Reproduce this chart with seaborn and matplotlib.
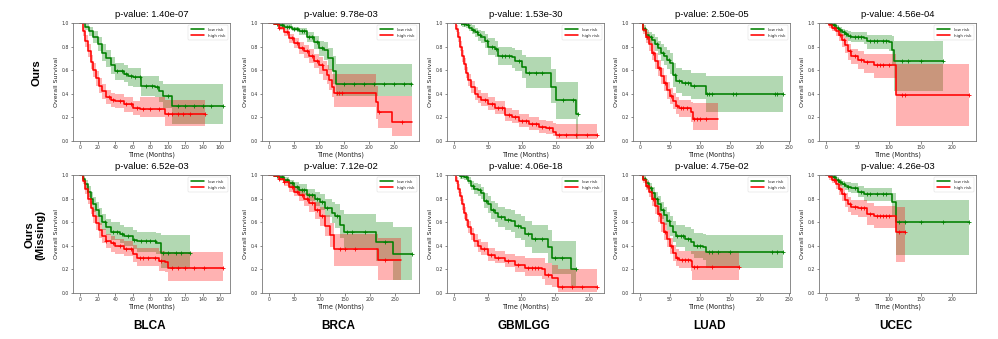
import numpy as np
import matplotlib
matplotlib.use("Agg")
import matplotlib.pyplot as plt
from matplotlib.ticker import MultipleLocator, FormatStrFormatter
import seaborn as sns

# ---------------- data ----------------
CANCERS = ["BLCA", "BRCA", "GBMLGG", "LUAD", "UCEC"]
ROWS = ["Ours", "Ours\n(Missing)"]
PVALUES_OURS = ["1.40e-07", "9.78e-03", "1.53e-30", "2.50e-05", "4.56e-04"]
PVALUES_MISSING = ["6.52e-03", "7.12e-02", "4.06e-18", "4.75e-02", "4.26e-03"]
GROUPS = ["low risk", "high risk"]

# ---- BLCA / Ours ----
blca_o_low_t = [0, 5, 10, 15, 20, 25, 30, 35, 40, 50, 55, 60, 70, 85, 90, 95, 105, 163]
blca_o_low_s = [1.0, 0.97, 0.93, 0.88, 0.82, 0.75, 0.70, 0.64, 0.59, 0.57, 0.55, 0.54, 0.47, 0.46, 0.42, 0.38, 0.30, 0.30]
blca_o_low_lo = [1.0, 0.94, 0.89, 0.83, 0.76, 0.68, 0.63, 0.57, 0.52, 0.50, 0.47, 0.46, 0.38, 0.37, 0.33, 0.28, 0.14, 0.14]
blca_o_low_hi = [1.0, 0.99, 0.97, 0.93, 0.88, 0.82, 0.77, 0.71, 0.66, 0.64, 0.62, 0.62, 0.55, 0.55, 0.51, 0.48, 0.48, 0.48]
blca_o_low_c = [42, 48, 52, 58, 63, 68, 75, 82, 88, 100, 112, 120, 130, 140, 150, 163]
blca_o_high_t = [0, 3, 6, 9, 12, 15, 18, 21, 25, 30, 35, 40, 50, 60, 68, 97, 143]
blca_o_high_s = [1.0, 0.93, 0.85, 0.76, 0.67, 0.60, 0.53, 0.47, 0.42, 0.37, 0.35, 0.34, 0.31, 0.28, 0.27, 0.23, 0.23]
blca_o_high_lo = [1.0, 0.89, 0.80, 0.71, 0.61, 0.54, 0.47, 0.41, 0.36, 0.31, 0.29, 0.28, 0.25, 0.22, 0.20, 0.13, 0.13]
blca_o_high_hi = [1.0, 0.97, 0.90, 0.82, 0.73, 0.66, 0.59, 0.53, 0.48, 0.43, 0.41, 0.40, 0.37, 0.34, 0.37, 0.35, 0.35]
blca_o_high_c = [33, 38, 45, 52, 58, 65, 72, 80, 90, 100, 105, 112, 118, 125, 143]

# ---- BRCA / Ours ----
brca_o_low_t = [0, 10, 20, 30, 45, 60, 75, 90, 100, 110, 117, 128, 133, 285]
brca_o_low_s = [1.0, 0.99, 0.98, 0.97, 0.95, 0.93, 0.88, 0.84, 0.79, 0.77, 0.70, 0.59, 0.48, 0.48]
brca_o_low_lo = [1.0, 0.98, 0.97, 0.95, 0.93, 0.90, 0.84, 0.78, 0.72, 0.69, 0.60, 0.48, 0.38, 0.38]
brca_o_low_hi = [1.0, 1.0, 0.99, 0.99, 0.97, 0.96, 0.92, 0.89, 0.85, 0.84, 0.79, 0.72, 0.65, 0.65]
brca_o_low_c = [15, 25, 35, 40, 50, 55, 65, 70, 80, 85, 95, 105, 150, 170, 190, 210, 230, 250, 270, 283]
brca_o_high_t = [0, 10, 20, 30, 40, 50, 60, 70, 80, 90, 100, 108, 115, 120, 125, 130, 213, 218, 245, 285]
brca_o_high_s = [1.0, 0.99, 0.96, 0.92, 0.87, 0.83, 0.79, 0.76, 0.72, 0.68, 0.64, 0.60, 0.56, 0.52, 0.46, 0.41, 0.33, 0.25, 0.16, 0.16]
brca_o_high_lo = [1.0, 0.98, 0.94, 0.89, 0.83, 0.79, 0.74, 0.70, 0.66, 0.62, 0.57, 0.52, 0.48, 0.43, 0.37, 0.29, 0.19, 0.11, 0.04, 0.04]
brca_o_high_hi = [1.0, 1.0, 0.98, 0.95, 0.91, 0.87, 0.84, 0.81, 0.78, 0.74, 0.71, 0.68, 0.64, 0.61, 0.57, 0.57, 0.47, 0.38, 0.38, 0.38]
brca_o_high_c = [20, 35, 45, 55, 65, 75, 85, 95, 105, 135, 140, 145, 220, 265]

# ---- GBMLGG / Ours ----
gbm_o_low_t = [0, 12, 18, 22, 26, 30, 35, 40, 45, 50, 60, 65, 85, 90, 100, 105, 142, 150, 179, 182]
gbm_o_low_s = [1.0, 0.99, 0.98, 0.96, 0.94, 0.92, 0.90, 0.88, 0.85, 0.80, 0.78, 0.72, 0.71, 0.68, 0.63, 0.58, 0.46, 0.35, 0.23, 0.23]
gbm_o_low_lo = [1.0, 0.97, 0.96, 0.93, 0.91, 0.88, 0.85, 0.83, 0.79, 0.73, 0.71, 0.64, 0.62, 0.59, 0.53, 0.45, 0.32, 0.19, 0.02, 0.02]
gbm_o_low_hi = [1.0, 1.0, 1.0, 0.99, 0.98, 0.96, 0.94, 0.93, 0.91, 0.87, 0.85, 0.80, 0.79, 0.77, 0.73, 0.71, 0.61, 0.50, 0.50, 0.50]
gbm_o_low_c = [10, 15, 20, 28, 33, 38, 48, 55, 62, 70, 75, 80, 95, 110, 120, 130, 160, 175, 182]
gbm_o_high_t = [0, 3, 6, 9, 12, 15, 18, 21, 25, 30, 35, 40, 50, 60, 75, 85, 95, 110, 125, 135, 145, 150, 210]
gbm_o_high_s = [1.0, 0.95, 0.88, 0.80, 0.72, 0.65, 0.58, 0.52, 0.46, 0.40, 0.37, 0.35, 0.31, 0.28, 0.22, 0.20, 0.17, 0.14, 0.12, 0.11, 0.08, 0.05, 0.05]
gbm_o_high_lo = [1.0, 0.92, 0.84, 0.76, 0.67, 0.60, 0.53, 0.47, 0.41, 0.35, 0.32, 0.30, 0.26, 0.23, 0.17, 0.15, 0.12, 0.09, 0.07, 0.06, 0.04, 0.02, 0.02]
gbm_o_high_hi = [1.0, 0.98, 0.92, 0.85, 0.77, 0.70, 0.63, 0.57, 0.51, 0.46, 0.43, 0.41, 0.37, 0.34, 0.28, 0.26, 0.23, 0.20, 0.18, 0.17, 0.15, 0.14, 0.14]
gbm_o_high_c = [45, 55, 65, 70, 80, 90, 100, 105, 115, 120, 130, 140, 155, 165, 180, 195, 210]

# ---- LUAD / Ours ----
luad_o_low_t = [0, 5, 10, 15, 20, 25, 30, 35, 40, 45, 50, 55, 60, 70, 85, 110, 239]
luad_o_low_s = [1.0, 0.95, 0.90, 0.88, 0.86, 0.82, 0.79, 0.75, 0.72, 0.69, 0.66, 0.56, 0.51, 0.49, 0.47, 0.40, 0.40]
luad_o_low_lo = [1.0, 0.92, 0.86, 0.83, 0.81, 0.76, 0.73, 0.68, 0.64, 0.61, 0.57, 0.46, 0.41, 0.38, 0.36, 0.25, 0.25]
luad_o_low_hi = [1.0, 0.98, 0.94, 0.92, 0.91, 0.88, 0.85, 0.82, 0.80, 0.77, 0.75, 0.66, 0.62, 0.60, 0.58, 0.55, 0.55]
luad_o_low_c = [8, 18, 28, 38, 48, 58, 65, 75, 80, 90, 112, 115, 120, 155, 160, 225, 230, 239]
luad_o_high_t = [0, 5, 10, 15, 20, 25, 30, 35, 40, 45, 50, 55, 60, 65, 85, 88, 130]
luad_o_high_s = [1.0, 0.94, 0.88, 0.82, 0.75, 0.68, 0.62, 0.55, 0.49, 0.43, 0.38, 0.34, 0.30, 0.28, 0.25, 0.19, 0.19]
luad_o_high_lo = [1.0, 0.91, 0.83, 0.76, 0.69, 0.61, 0.55, 0.48, 0.42, 0.36, 0.31, 0.27, 0.23, 0.20, 0.16, 0.09, 0.09]
luad_o_high_hi = [1.0, 0.97, 0.92, 0.87, 0.81, 0.75, 0.69, 0.62, 0.56, 0.50, 0.45, 0.41, 0.37, 0.35, 0.33, 0.32, 0.32]
luad_o_high_c = [12, 22, 32, 42, 52, 62, 68, 72, 78, 90, 95, 100, 110]

# ---- UCEC / Ours ----
ucec_o_low_t = [0, 5, 10, 15, 20, 25, 30, 35, 40, 60, 65, 100, 105, 108, 185]
ucec_o_low_s = [1.0, 0.99, 0.98, 0.96, 0.94, 0.92, 0.91, 0.89, 0.88, 0.87, 0.85, 0.84, 0.77, 0.68, 0.68]
ucec_o_low_lo = [1.0, 0.98, 0.96, 0.94, 0.91, 0.89, 0.87, 0.85, 0.84, 0.82, 0.78, 0.76, 0.64, 0.42, 0.42]
ucec_o_low_hi = [1.0, 1.0, 1.0, 0.98, 0.97, 0.95, 0.94, 0.93, 0.92, 0.92, 0.90, 0.90, 0.89, 0.85, 0.85]
ucec_o_low_c = [8, 12, 18, 22, 28, 32, 38, 45, 50, 55, 70, 75, 80, 90, 95, 120, 130, 150, 185]
ucec_o_high_t = [0, 5, 10, 15, 20, 25, 30, 35, 40, 50, 60, 75, 110, 226]
ucec_o_high_s = [1.0, 0.98, 0.96, 0.93, 0.90, 0.86, 0.81, 0.76, 0.72, 0.69, 0.67, 0.64, 0.39, 0.39]
ucec_o_high_lo = [1.0, 0.96, 0.93, 0.89, 0.85, 0.80, 0.75, 0.69, 0.65, 0.61, 0.58, 0.53, 0.13, 0.13]
ucec_o_high_hi = [1.0, 1.0, 0.98, 0.96, 0.94, 0.91, 0.87, 0.82, 0.78, 0.76, 0.74, 0.74, 0.65, 0.65]
ucec_o_high_c = [12, 22, 28, 38, 45, 55, 65, 80, 85, 90, 100, 120, 125, 226]

# ---- BLCA / Missing ----
blca_m_low_t = [0, 3, 6, 9, 12, 15, 18, 21, 25, 30, 35, 45, 50, 60, 65, 87, 92, 125]
blca_m_low_s = [1.0, 0.97, 0.92, 0.86, 0.80, 0.75, 0.70, 0.65, 0.60, 0.56, 0.52, 0.50, 0.48, 0.45, 0.44, 0.42, 0.34, 0.34]
blca_m_low_lo = [1.0, 0.95, 0.88, 0.81, 0.75, 0.69, 0.64, 0.58, 0.53, 0.49, 0.45, 0.42, 0.40, 0.37, 0.35, 0.33, 0.21, 0.21]
blca_m_low_hi = [1.0, 0.99, 0.96, 0.91, 0.86, 0.81, 0.77, 0.72, 0.67, 0.63, 0.60, 0.58, 0.56, 0.53, 0.52, 0.51, 0.49, 0.49]
blca_m_low_c = [28, 38, 42, 48, 55, 62, 70, 75, 80, 85, 95, 100, 110, 115, 125]
blca_m_high_t = [0, 3, 6, 9, 12, 15, 18, 21, 25, 30, 35, 40, 50, 60, 65, 90, 97, 100, 163]
blca_m_high_s = [1.0, 0.95, 0.88, 0.80, 0.72, 0.65, 0.59, 0.53, 0.48, 0.44, 0.42, 0.40, 0.37, 0.33, 0.30, 0.27, 0.26, 0.21, 0.21]
blca_m_high_lo = [1.0, 0.92, 0.84, 0.75, 0.67, 0.59, 0.53, 0.47, 0.42, 0.38, 0.35, 0.33, 0.31, 0.26, 0.23, 0.19, 0.18, 0.10, 0.10]
blca_m_high_hi = [1.0, 0.98, 0.92, 0.85, 0.78, 0.71, 0.65, 0.59, 0.54, 0.50, 0.48, 0.46, 0.44, 0.41, 0.38, 0.36, 0.35, 0.35, 0.35]
blca_m_high_c = [30, 38, 45, 52, 58, 68, 72, 78, 85, 92, 105, 112, 120, 130, 142, 163]

# ---- BRCA / Missing ----
brca_m_low_t = [0, 10, 20, 30, 40, 50, 60, 75, 90, 100, 110, 125, 130, 140, 148, 212, 245, 283]
brca_m_low_s = [1.0, 0.99, 0.98, 0.96, 0.93, 0.90, 0.87, 0.83, 0.80, 0.77, 0.72, 0.68, 0.65, 0.58, 0.52, 0.43, 0.33, 0.33]
brca_m_low_lo = [1.0, 0.98, 0.96, 0.94, 0.90, 0.86, 0.83, 0.78, 0.74, 0.70, 0.64, 0.59, 0.55, 0.47, 0.38, 0.27, 0.11, 0.11]
brca_m_low_hi = [1.0, 1.0, 0.99, 0.98, 0.96, 0.94, 0.92, 0.88, 0.86, 0.84, 0.80, 0.77, 0.75, 0.70, 0.67, 0.60, 0.56, 0.56]
brca_m_low_c = [15, 25, 35, 45, 55, 65, 70, 80, 85, 95, 105, 115, 135, 155, 165, 190, 230, 283]
brca_m_high_t = [0, 10, 20, 30, 40, 50, 60, 70, 80, 90, 100, 110, 120, 128, 215, 262]
brca_m_high_s = [1.0, 0.99, 0.97, 0.94, 0.90, 0.86, 0.83, 0.80, 0.76, 0.70, 0.65, 0.57, 0.49, 0.37, 0.28, 0.28]
brca_m_high_lo = [1.0, 0.98, 0.95, 0.91, 0.86, 0.82, 0.78, 0.74, 0.69, 0.63, 0.57, 0.48, 0.39, 0.23, 0.11, 0.11]
brca_m_high_hi = [1.0, 1.0, 0.99, 0.97, 0.94, 0.91, 0.88, 0.85, 0.82, 0.77, 0.73, 0.66, 0.59, 0.50, 0.47, 0.47]
brca_m_high_c = [20, 30, 45, 55, 65, 75, 85, 95, 105, 140, 150, 170, 230]

# ---- GBMLGG / Missing ----
gbm_m_low_t = [0, 8, 15, 20, 25, 30, 35, 40, 45, 50, 55, 60, 65, 75, 85, 90, 100, 105, 115, 140, 145, 173, 181]
gbm_m_low_s = [1.0, 0.99, 0.98, 0.95, 0.91, 0.88, 0.87, 0.85, 0.78, 0.75, 0.70, 0.68, 0.64, 0.62, 0.61, 0.57, 0.55, 0.50, 0.46, 0.39, 0.30, 0.20, 0.20]
gbm_m_low_lo = [1.0, 0.97, 0.96, 0.92, 0.87, 0.84, 0.82, 0.80, 0.72, 0.68, 0.63, 0.60, 0.56, 0.53, 0.52, 0.47, 0.45, 0.39, 0.34, 0.25, 0.16, 0.06, 0.06]
gbm_m_low_hi = [1.0, 1.0, 1.0, 0.98, 0.95, 0.93, 0.92, 0.90, 0.85, 0.82, 0.78, 0.76, 0.73, 0.71, 0.70, 0.67, 0.65, 0.61, 0.58, 0.53, 0.44, 0.44, 0.44]
gbm_m_low_c = [10, 18, 28, 38, 48, 58, 70, 80, 95, 110, 120, 130, 150, 160, 181]
gbm_m_high_t = [0, 3, 6, 9, 12, 15, 18, 21, 25, 30, 35, 40, 50, 60, 75, 90, 105, 130, 135, 145, 155, 212]
gbm_m_high_s = [1.0, 0.95, 0.88, 0.82, 0.75, 0.68, 0.62, 0.56, 0.50, 0.44, 0.40, 0.37, 0.32, 0.30, 0.27, 0.24, 0.21, 0.20, 0.15, 0.13, 0.05, 0.05]
gbm_m_high_lo = [1.0, 0.92, 0.85, 0.78, 0.70, 0.63, 0.57, 0.51, 0.45, 0.39, 0.35, 0.32, 0.27, 0.25, 0.22, 0.18, 0.14, 0.12, 0.07, 0.05, 0.01, 0.01]
gbm_m_high_hi = [1.0, 0.98, 0.92, 0.86, 0.80, 0.73, 0.67, 0.61, 0.55, 0.50, 0.46, 0.43, 0.38, 0.36, 0.33, 0.31, 0.30, 0.30, 0.25, 0.24, 0.20, 0.20]
gbm_m_high_c = [45, 55, 65, 80, 95, 110, 115, 120, 125, 140, 160, 175, 190, 212]

# ---- LUAD / Missing ----
luad_m_low_t = [0, 5, 10, 15, 20, 25, 30, 35, 40, 45, 50, 55, 60, 75, 85, 90, 105, 110, 239]
luad_m_low_s = [1.0, 0.97, 0.93, 0.89, 0.85, 0.80, 0.75, 0.70, 0.66, 0.61, 0.57, 0.52, 0.48, 0.46, 0.43, 0.40, 0.39, 0.35, 0.35]
luad_m_low_lo = [1.0, 0.95, 0.89, 0.85, 0.80, 0.74, 0.69, 0.63, 0.58, 0.53, 0.48, 0.43, 0.39, 0.36, 0.33, 0.30, 0.28, 0.21, 0.21]
luad_m_low_hi = [1.0, 0.99, 0.96, 0.93, 0.90, 0.86, 0.82, 0.77, 0.73, 0.69, 0.65, 0.61, 0.58, 0.56, 0.54, 0.51, 0.50, 0.49, 0.49]
luad_m_low_c = [8, 18, 28, 38, 48, 62, 68, 72, 80, 95, 100, 115, 120, 130, 150, 220, 230, 239]
luad_m_high_t = [0, 5, 10, 15, 20, 25, 30, 35, 40, 45, 50, 55, 60, 65, 85, 87, 165]
luad_m_high_s = [1.0, 0.96, 0.91, 0.86, 0.80, 0.74, 0.67, 0.59, 0.52, 0.46, 0.40, 0.34, 0.30, 0.28, 0.27, 0.22, 0.22]
luad_m_high_lo = [1.0, 0.93, 0.87, 0.81, 0.74, 0.67, 0.60, 0.52, 0.45, 0.39, 0.33, 0.27, 0.23, 0.21, 0.19, 0.11, 0.11]
luad_m_high_hi = [1.0, 0.98, 0.95, 0.91, 0.86, 0.80, 0.74, 0.66, 0.59, 0.53, 0.47, 0.41, 0.37, 0.36, 0.36, 0.36, 0.36]
luad_m_high_c = [12, 22, 32, 42, 52, 62, 70, 75, 80, 90, 95, 120, 165]

# ---- UCEC / Missing ----
ucec_m_low_t = [0, 5, 10, 15, 20, 25, 30, 35, 40, 50, 60, 105, 110, 226]
ucec_m_low_s = [1.0, 0.99, 0.98, 0.96, 0.94, 0.92, 0.91, 0.90, 0.89, 0.86, 0.84, 0.77, 0.60, 0.60]
ucec_m_low_lo = [1.0, 0.98, 0.96, 0.94, 0.91, 0.89, 0.87, 0.86, 0.85, 0.81, 0.78, 0.66, 0.32, 0.32]
ucec_m_low_hi = [1.0, 1.0, 1.0, 0.98, 0.97, 0.95, 0.94, 0.94, 0.93, 0.91, 0.89, 0.85, 0.79, 0.79]
ucec_m_low_c = [8, 12, 18, 22, 28, 35, 45, 55, 65, 70, 80, 90, 95, 115, 125, 150, 185, 226]
ucec_m_high_t = [0, 5, 10, 15, 20, 25, 30, 35, 40, 50, 65, 75, 110, 125]
ucec_m_high_s = [1.0, 0.98, 0.96, 0.92, 0.88, 0.84, 0.79, 0.75, 0.73, 0.72, 0.67, 0.65, 0.52, 0.52]
ucec_m_high_lo = [1.0, 0.96, 0.93, 0.88, 0.83, 0.78, 0.73, 0.69, 0.66, 0.64, 0.58, 0.55, 0.26, 0.26]
ucec_m_high_hi = [1.0, 1.0, 0.98, 0.95, 0.92, 0.89, 0.85, 0.81, 0.79, 0.79, 0.76, 0.74, 0.73, 0.73]
ucec_m_high_c = [12, 22, 28, 38, 45, 55, 60, 70, 80, 85, 90, 95, 100, 115, 125]

XTICK_STEP = [20, 50, 50, 50, 50]

# table built from the named lists: PANELS[row][col] = (low curve, high curve)
PANELS = [
    [
        ((blca_o_low_t, blca_o_low_s, blca_o_low_lo, blca_o_low_hi, blca_o_low_c),
         (blca_o_high_t, blca_o_high_s, blca_o_high_lo, blca_o_high_hi, blca_o_high_c)),
        ((brca_o_low_t, brca_o_low_s, brca_o_low_lo, brca_o_low_hi, brca_o_low_c),
         (brca_o_high_t, brca_o_high_s, brca_o_high_lo, brca_o_high_hi, brca_o_high_c)),
        ((gbm_o_low_t, gbm_o_low_s, gbm_o_low_lo, gbm_o_low_hi, gbm_o_low_c),
         (gbm_o_high_t, gbm_o_high_s, gbm_o_high_lo, gbm_o_high_hi, gbm_o_high_c)),
        ((luad_o_low_t, luad_o_low_s, luad_o_low_lo, luad_o_low_hi, luad_o_low_c),
         (luad_o_high_t, luad_o_high_s, luad_o_high_lo, luad_o_high_hi, luad_o_high_c)),
        ((ucec_o_low_t, ucec_o_low_s, ucec_o_low_lo, ucec_o_low_hi, ucec_o_low_c),
         (ucec_o_high_t, ucec_o_high_s, ucec_o_high_lo, ucec_o_high_hi, ucec_o_high_c)),
    ],
    [
        ((blca_m_low_t, blca_m_low_s, blca_m_low_lo, blca_m_low_hi, blca_m_low_c),
         (blca_m_high_t, blca_m_high_s, blca_m_high_lo, blca_m_high_hi, blca_m_high_c)),
        ((brca_m_low_t, brca_m_low_s, brca_m_low_lo, brca_m_low_hi, brca_m_low_c),
         (brca_m_high_t, brca_m_high_s, brca_m_high_lo, brca_m_high_hi, brca_m_high_c)),
        ((gbm_m_low_t, gbm_m_low_s, gbm_m_low_lo, gbm_m_low_hi, gbm_m_low_c),
         (gbm_m_high_t, gbm_m_high_s, gbm_m_high_lo, gbm_m_high_hi, gbm_m_high_c)),
        ((luad_m_low_t, luad_m_low_s, luad_m_low_lo, luad_m_low_hi, luad_m_low_c),
         (luad_m_high_t, luad_m_high_s, luad_m_high_lo, luad_m_high_hi, luad_m_high_c)),
        ((ucec_m_low_t, ucec_m_low_s, ucec_m_low_lo, ucec_m_low_hi, ucec_m_low_c),
         (ucec_m_high_t, ucec_m_high_s, ucec_m_high_lo, ucec_m_high_hi, ucec_m_high_c)),
    ],
]
PVALS = [PVALUES_OURS, PVALUES_MISSING]

# ---------------- styling / layout ----------------
sns.set_style("white")
plt.rcParams['font.family'] = ['DejaVu Sans']
COLORS = ["green", "red"]

W, H = 998, 339
fig = plt.figure(figsize=(W / 100, H / 100), dpi=100)
fig.patch.set_facecolor("white")

AX_LEFT_PX = [73, 262, 447, 633, 819]
AX_W_PX = 157
AX_TOP_PX = [23, 175]
AX_H_PX = 118


def step_value(t, s, x):
    i = np.searchsorted(np.asarray(t), x, side="right") - 1
    i = max(0, min(i, len(s) - 1))
    return s[i]


for r in range(2):
    for c in range(5):
        rect = [AX_LEFT_PX[c] / W, 1 - (AX_TOP_PX[r] + AX_H_PX) / H, AX_W_PX / W, AX_H_PX / H]
        ax = fig.add_axes(rect)
        for g, (t, s, lo, hi, cens) in enumerate(PANELS[r][c]):
            col = COLORS[g]
            ax.fill_between(t, lo, hi, step="post", color=col, alpha=0.3, linewidth=0)
            sns.lineplot(x=t, y=s, ax=ax, color=col, linewidth=1.15, drawstyle="steps-post",
                         sort=False, estimator=None, label=GROUPS[g])
            cy = [step_value(t, s, x) for x in cens]
            ax.plot(cens, cy, linestyle="none", marker="+", markersize=2.8,
                    markeredgewidth=0.6, color=col)
        ax.set_ylim(0, 1.0)
        ax.margins(x=0.05)
        ax.xaxis.set_major_locator(MultipleLocator(XTICK_STEP[c]))
        ax.yaxis.set_major_locator(MultipleLocator(0.2))
        ax.yaxis.set_major_formatter(FormatStrFormatter("%.1f"))
        ax.tick_params(axis="both", labelsize=3.3, length=1.8, width=0.4, pad=1,
                       colors="#333333", bottom=True, left=True)
        for sp in ax.spines.values():
            sp.set_color("#777777")
            sp.set_linewidth(0.6)
        ax.set_xlabel("Time (Months)", fontsize=4.7, labelpad=1, color="#222222")
        ax.set_ylabel("Overall Survival", fontsize=4.5, labelpad=2, color="#222222")
        ax.set_title("p-value: " + PVALS[r][c], fontsize=6.8, pad=4,
                     family=["Liberation Sans", "DejaVu Sans"], color="black")
        leg = ax.legend(loc="upper right", fontsize=2.9, frameon=True, handlelength=3.4,
                        borderpad=0.6, labelspacing=0.5, handletextpad=0.8, borderaxespad=0.6)
        leg.get_frame().set_linewidth(0.3)
        leg.get_frame().set_edgecolor("#cccccc")

# row labels
fig.text(37 / W, 1 - 73 / H, ROWS[0], rotation=90, ha="center", va="center", color="black",
         fontsize=8.2, fontweight="bold", family=["Liberation Sans", "DejaVu Sans"])
fig.text(35 / W, 1 - 235 / H, ROWS[1], rotation=90, ha="center", va="center", color="black",
         fontsize=8.2, fontweight="bold", family=["Liberation Sans", "DejaVu Sans"],
         multialignment="center", linespacing=1.1)

# column labels
for c, name in enumerate(CANCERS):
    fig.text((AX_LEFT_PX[c] + AX_W_PX / 2 - 2) / W, 1 - 326 / H, name, ha="center", va="center",
             color="black", fontsize=8.5, fontweight="bold",
             family=["Liberation Sans", "DejaVu Sans"])

fig.savefig("out.png", dpi=100, facecolor="white")
